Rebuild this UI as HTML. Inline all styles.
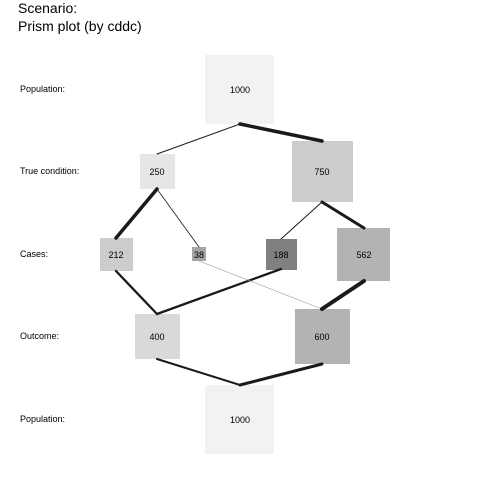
<!DOCTYPE html>
<html><head><style>body{margin:0;background:#fff}</style></head><body>
<svg width="480" height="480" xmlns="http://www.w3.org/2000/svg" font-family="Liberation Sans, sans-serif">
<rect width="480" height="480" fill="#fff"/>
<text x="18" y="13" font-size="14">Scenario:</text>
<text x="18" y="31" font-size="14">Prism plot (by cddc)</text>
<g font-size="9" fill="#000">
<text x="20" y="92">Population:</text>
<text x="20" y="174">True condition:</text>
<text x="20" y="257">Cases:</text>
<text x="20" y="339">Outcome:</text>
<text x="20" y="422">Population:</text>
</g>
<g>
<rect x="205" y="55" width="69" height="69" fill="#f2f2f2"/>
<rect x="140" y="154" width="35" height="35" fill="#e6e6e6"/>
<rect x="292" y="141" width="61" height="61" fill="#cccccc"/>
<rect x="100" y="238" width="33" height="33" fill="#cccccc"/>
<rect x="192" y="247" width="14" height="14" fill="#a6a6a6"/>
<rect x="266" y="239" width="31" height="31" fill="#808080"/>
<rect x="337" y="228" width="53" height="53" fill="#b3b3b3"/>
<rect x="135" y="314" width="45" height="45" fill="#d9d9d9"/>
<rect x="295" y="309" width="55" height="55" fill="#b3b3b3"/>
<rect x="205" y="385" width="69" height="69" fill="#f2f2f2"/>
</g>
<g stroke="#1a1a1a" stroke-linecap="round" fill="none">
<line x1="240" y1="124" x2="157" y2="154" stroke-width="1"/>
<line x1="240" y1="124" x2="322" y2="141" stroke-width="3.5"/>
<line x1="157" y1="189" x2="116" y2="238" stroke-width="3.5"/>
<line x1="157" y1="189" x2="199" y2="247" stroke-width="0.8"/>
<line x1="322" y1="202" x2="281" y2="239" stroke-width="1"/>
<line x1="322" y1="202" x2="364" y2="228" stroke-width="3"/>
<line x1="116" y1="271" x2="157" y2="314" stroke-width="2.3"/>
<line x1="281" y1="269" x2="157" y2="314" stroke-width="2.3"/>
<line x1="199" y1="261" x2="322" y2="309" stroke-width="0.6" stroke="#999"/>
<line x1="364" y1="281" x2="322" y2="309" stroke-width="4"/>
<line x1="157" y1="359" x2="240" y2="385" stroke-width="2"/>
<line x1="322" y1="364" x2="240" y2="385" stroke-width="3"/>
</g>
<g font-size="9" text-anchor="middle" fill="#000">
<text x="240" y="93">1000</text>
<text x="157" y="175">250</text>
<text x="322" y="175">750</text>
<text x="116" y="258">212</text>
<text x="199" y="258">38</text>
<text x="281" y="258">188</text>
<text x="364" y="258">562</text>
<text x="157" y="340">400</text>
<text x="322" y="340">600</text>
<text x="240" y="423">1000</text>
</g>
</svg>
</body></html>
